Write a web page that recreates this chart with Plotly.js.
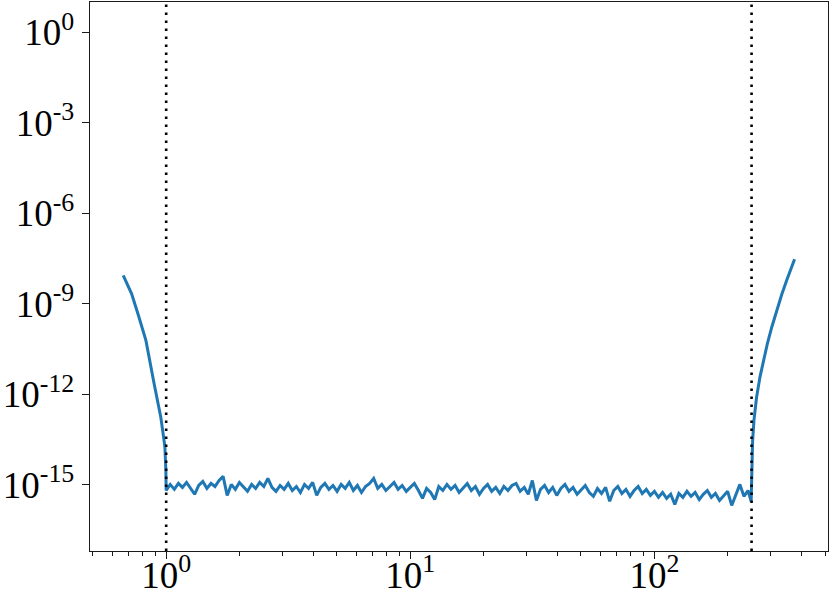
<!DOCTYPE html>
<html>
<head>
<meta charset="utf-8">
<script src="https://cdn.plot.ly/plotly-3.0.1.min.js"></script>
<style>html,body{margin:0;padding:0;background:#fff;}#chart{width:830px;height:595px;}</style>
</head>
<body>
<div id="chart"></div>
<script>
// Left steep segment (x < 1)
const leftX = [0.667, 0.722, 0.77, 0.826, 0.893, 0.951, 0.975, 0.988, 0.997];
const leftY = [8.7e-9, 2.15e-9, 4.1e-10, 6.1e-11, 2.2e-12, 1.7e-13, 4.0e-14, 1.8e-14, 3.0e-15];

// Noise floor between the two boundaries
const floorX = [
  1.000,1.039,1.080,1.122,1.166,1.212,1.259,1.308,1.359,1.413,1.468,1.526,1.585,1.647,1.711,1.778,1.848,1.920,1.995,2.073,
  2.154,2.239,2.326,2.417,2.512,2.610,2.712,2.818,2.929,3.043,3.162,3.286,3.415,3.548,3.687,3.831,3.981,4.137,4.299,4.467,
  4.642,4.823,5.012,5.208,5.412,5.623,5.843,6.072,6.310,6.556,6.813,7.079,7.356,7.644,7.943,8.254,8.577,8.913,9.261,9.624,
  10.00,10.39,10.80,11.22,11.66,12.12,12.59,13.08,13.59,14.13,14.68,15.26,15.85,16.47,17.11,17.78,18.48,19.20,19.95,20.73,
  21.54,22.39,23.26,24.17,25.12,26.10,27.12,28.18,29.29,30.43,31.62,32.86,34.15,35.48,36.87,38.31,39.81,41.37,42.99,44.67,
  46.42,48.23,50.12,52.08,54.12,56.23,58.43,60.72,63.10,65.56,68.13,70.79,73.56,76.44,79.43,82.54,85.77,89.13,92.61,96.24,
  100.0,103.9,108.0,112.2,116.6,121.2,125.9,130.8,135.9,141.3,146.8,152.6,158.5,164.7,171.1,177.8,184.8,192.0,199.5,207.3,
  215.4,223.9,232.6,241.7,249.0
];
const floorY = [
  6.4e-16,1.02e-15,7.0e-16,1.10e-15,8.1e-16,1.19e-15,7.5e-16,4.8e-16,9.4e-16,1.28e-15,7.5e-16,1.10e-15,8.7e-16,1.38e-15,1.88e-15,4.4e-16,1.02e-15,7.0e-16,1.19e-15,8.1e-16,
  6.0e-16,1.02e-15,7.5e-16,1.19e-15,8.7e-16,1.61e-15,8.1e-16,6.0e-16,9.4e-16,7.0e-16,1.10e-15,6.4e-16,8.7e-16,5.5e-16,1.02e-15,7.5e-16,1.19e-15,4.4e-16,8.1e-16,1.10e-15,
  7.0e-16,9.4e-16,6.0e-16,1.02e-15,7.5e-16,1.19e-15,6.4e-16,9.4e-16,5.5e-16,8.7e-16,1.10e-15,1.61e-15,7.5e-16,1.02e-15,6.4e-16,8.7e-16,1.19e-15,7.0e-16,9.4e-16,6.0e-16,
  8.1e-16,1.10e-15,6.4e-16,3.5e-16,7.5e-16,5.5e-16,3.2e-16,8.7e-16,6.4e-16,1.02e-15,7.0e-16,9.4e-16,5.5e-16,8.1e-16,1.10e-15,6.4e-16,8.7e-16,4.8e-16,7.5e-16,1.02e-15,
  6.0e-16,8.1e-16,5.1e-16,8.7e-16,6.4e-16,9.4e-16,1.10e-15,6.0e-16,8.1e-16,4.8e-16,1.38e-15,3.0e-16,7.0e-16,9.4e-16,5.5e-16,8.1e-16,4.4e-16,7.5e-16,1.02e-15,6.0e-16,
  8.1e-16,4.8e-16,7.0e-16,9.4e-16,5.5e-16,4.1e-16,7.5e-16,5.1e-16,8.1e-16,2.8e-16,6.4e-16,8.7e-16,5.1e-16,7.0e-16,4.1e-16,6.4e-16,8.7e-16,5.1e-16,7.0e-16,4.4e-16,
  6.0e-16,3.8e-16,5.5e-16,3.5e-16,4.8e-16,2.2e-16,5.1e-16,3.8e-16,6.0e-16,4.1e-16,5.5e-16,3.2e-16,4.8e-16,6.4e-16,3.8e-16,5.1e-16,3.0e-16,4.4e-16,6.0e-16,2.05e-16,
  4.8e-16,1.02e-15,4.1e-16,6.4e-16,2.8e-16
];

// Right steep segment (x > 250)
const rightX = [250.3, 252.5, 255.7, 262, 270.6, 280, 290, 303, 316.7, 332, 347.9, 361, 375];
const rightY = [3.8e-15, 2.9e-14, 1.35e-13, 7.8e-13, 3.7e-12, 1.43e-11, 4.7e-11, 1.77e-10, 6.0e-10, 2.0e-9, 5.9e-9, 1.38e-8, 3.0e-8];

// Vertical dotted boundaries
const boundaries = [1, 250];

// Ticks
const xTickVals = [1, 10, 100];
const xTickText = ['10<sup>0</sup>', '10<sup>1</sup>', '10<sup>2</sup>'];
const xMinorVals = [0.5,0.6,0.7,0.8,0.9,2,3,4,5,6,7,8,9,20,30,40,50,60,70,80,90,200,300,400,500];
const yTickVals = [1, 1e-3, 1e-6, 1e-9, 1e-12, 1e-15];
const yTickText = ['10<sup>0</sup>', '10<sup>-3</sup>', '10<sup>-6</sup>', '10<sup>-9</sup>', '10<sup>-12</sup>', '10<sup>-15</sup>'];

const font = {family: 'Liberation Serif, DejaVu Serif, serif', size: 37, color: '#000'};

const trace = {
  x: leftX.concat(floorX, rightX),
  y: leftY.concat(floorY, rightY),
  type: 'scatter',
  mode: 'lines',
  line: {color: '#1f77b4', width: 3},
  hoverinfo: 'skip'
};

const shapes = boundaries.map(b => ({
  type: 'line', xref: 'x', yref: 'paper', x0: b, x1: b, y0: 0, y1: 1,
  line: {color: '#000', width: 2.6, dash: '2.6px,5.4px'},
  layer: 'above'
}));

const axisCommon = {
  type: 'log',
  showgrid: false,
  zeroline: false,
  showline: true,
  mirror: true,
  linecolor: '#1a1a1a',
  linewidth: 1.3,
  ticks: 'outside',
  ticklen: 7,
  tickwidth: 1.2,
  tickcolor: '#1a1a1a',
  tickfont: font,
  tickmode: 'array'
};

const layout = {
  width: 830, height: 595,
  margin: {l: 90, r: 2, t: 2, b: 44},
  paper_bgcolor: '#fff', plot_bgcolor: '#fff',
  showlegend: false,
  font: font,
  xaxis: Object.assign({}, axisCommon, {
    range: [-0.312, 2.711],
    tickvals: xTickVals, ticktext: xTickText,
    ticklabelstandoff: -16,
    minor: {ticks: 'outside', ticklen: 4, tickwidth: 1, tickcolor: '#1a1a1a', tickmode: 'array', tickvals: xMinorVals, showgrid: false}
  }),
  yaxis: Object.assign({}, axisCommon, {
    range: [-17.2, 1.01],
    tickvals: yTickVals, ticktext: yTickText,
    ticklabelstandoff: 0
  }),
  shapes: shapes
};

Plotly.newPlot('chart', [trace], layout, {staticPlot: true, displayModeBar: false});
</script>
</body>
</html>
